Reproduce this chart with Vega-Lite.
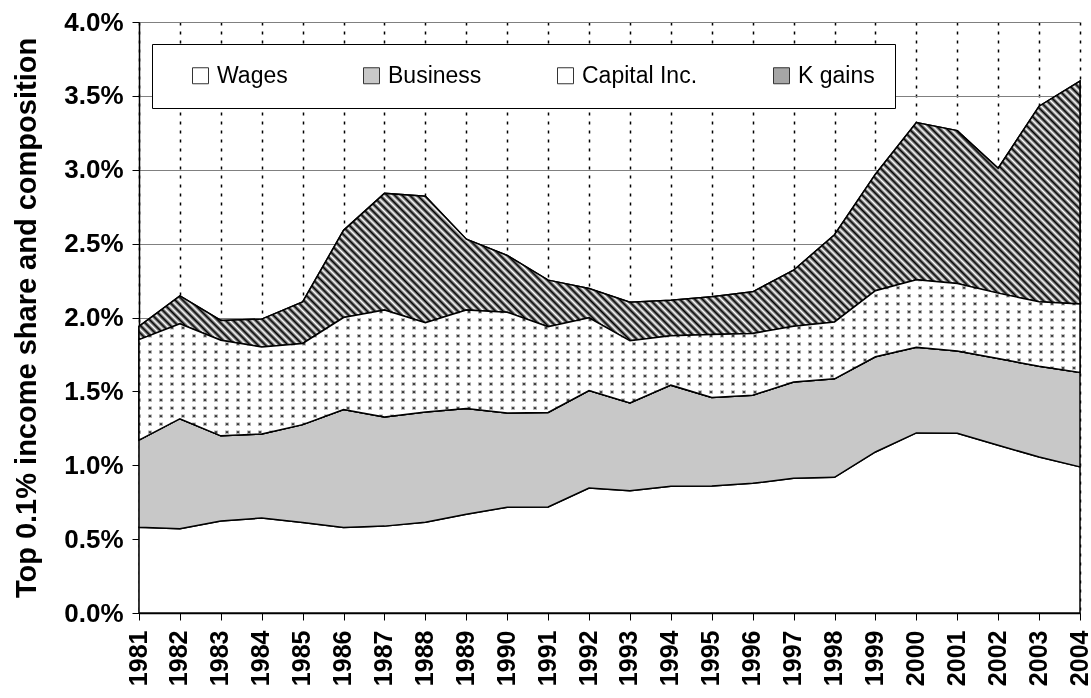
{
"$schema": "https://vega.github.io/schema/vega-lite/v6.json",
"width": 941, "height": 591,
"autosize": {"type": "none"},
"padding": {"left": 139, "top": 22, "right": 11, "bottom": 85},
"background": "#ffffff",
"config": {"view": {"stroke": null}, "font": "Liberation Sans"},
"data": {"values": [
{"year":1981,"series":"Wages","value":0.0058},{"year":1981,"series":"Business","value":0.0059},{"year":1981,"series":"Capital Inc.","value":0.0068},{"year":1981,"series":"K gains","value":0.0009},
{"year":1982,"series":"Wages","value":0.0057},{"year":1982,"series":"Business","value":0.00745},{"year":1982,"series":"Capital Inc.","value":0.00643},{"year":1982,"series":"K gains","value":0.00188},
{"year":1983,"series":"Wages","value":0.00623},{"year":1983,"series":"Business","value":0.00576},{"year":1983,"series":"Capital Inc.","value":0.00647},{"year":1983,"series":"K gains","value":0.00134},
{"year":1984,"series":"Wages","value":0.00643},{"year":1984,"series":"Business","value":0.00569},{"year":1984,"series":"Capital Inc.","value":0.00589},{"year":1984,"series":"K gains","value":0.00188},
{"year":1985,"series":"Wages","value":0.00612},{"year":1985,"series":"Business","value":0.00663},{"year":1985,"series":"Capital Inc.","value":0.00549},{"year":1985,"series":"K gains","value":0.00282},
{"year":1986,"series":"Wages","value":0.00578},{"year":1986,"series":"Business","value":0.00799},{"year":1986,"series":"Capital Inc.","value":0.00623},{"year":1986,"series":"K gains","value":0.0059},
{"year":1987,"series":"Wages","value":0.00588},{"year":1987,"series":"Business","value":0.00739},{"year":1987,"series":"Capital Inc.","value":0.00723},{"year":1987,"series":"K gains","value":0.0079},
{"year":1988,"series":"Wages","value":0.00614},{"year":1988,"series":"Business","value":0.00747},{"year":1988,"series":"Capital Inc.","value":0.00603},{"year":1988,"series":"K gains","value":0.00856},
{"year":1989,"series":"Wages","value":0.00668},{"year":1989,"series":"Business","value":0.00716},{"year":1989,"series":"Capital Inc.","value":0.00666},{"year":1989,"series":"K gains","value":0.0048},
{"year":1990,"series":"Wages","value":0.00716},{"year":1990,"series":"Business","value":0.00638},{"year":1990,"series":"Capital Inc.","value":0.00682},{"year":1990,"series":"K gains","value":0.00384},
{"year":1991,"series":"Wages","value":0.00718},{"year":1991,"series":"Business","value":0.00639},{"year":1991,"series":"Capital Inc.","value":0.0058},{"year":1991,"series":"K gains","value":0.00316},
{"year":1992,"series":"Wages","value":0.00846},{"year":1992,"series":"Business","value":0.0066},{"year":1992,"series":"Capital Inc.","value":0.00492},{"year":1992,"series":"K gains","value":0.00198},
{"year":1993,"series":"Wages","value":0.00828},{"year":1993,"series":"Business","value":0.00593},{"year":1993,"series":"Capital Inc.","value":0.00421},{"year":1993,"series":"K gains","value":0.00262},
{"year":1994,"series":"Wages","value":0.00858},{"year":1994,"series":"Business","value":0.00684},{"year":1994,"series":"Capital Inc.","value":0.00334},{"year":1994,"series":"K gains","value":0.00241},
{"year":1995,"series":"Wages","value":0.0086},{"year":1995,"series":"Business","value":0.00598},{"year":1995,"series":"Capital Inc.","value":0.00427},{"year":1995,"series":"K gains","value":0.00255},
{"year":1996,"series":"Wages","value":0.00878},{"year":1996,"series":"Business","value":0.00596},{"year":1996,"series":"Capital Inc.","value":0.00418},{"year":1996,"series":"K gains","value":0.00282},
{"year":1997,"series":"Wages","value":0.00912},{"year":1997,"series":"Business","value":0.00652},{"year":1997,"series":"Capital Inc.","value":0.00377},{"year":1997,"series":"K gains","value":0.00379},
{"year":1998,"series":"Wages","value":0.00918},{"year":1998,"series":"Business","value":0.00667},{"year":1998,"series":"Capital Inc.","value":0.00385},{"year":1998,"series":"K gains","value":0.0059},
{"year":1999,"series":"Wages","value":0.0109},{"year":1999,"series":"Business","value":0.00644},{"year":1999,"series":"Capital Inc.","value":0.00447},{"year":1999,"series":"K gains","value":0.00789},
{"year":2000,"series":"Wages","value":0.01219},{"year":2000,"series":"Business","value":0.0058},{"year":2000,"series":"Capital Inc.","value":0.00456},{"year":2000,"series":"K gains","value":0.01065},
{"year":2001,"series":"Wages","value":0.01217},{"year":2001,"series":"Business","value":0.00557},{"year":2001,"series":"Capital Inc.","value":0.00456},{"year":2001,"series":"K gains","value":0.01035},
{"year":2002,"series":"Wages","value":0.01135},{"year":2002,"series":"Business","value":0.00587},{"year":2002,"series":"Capital Inc.","value":0.00443},{"year":2002,"series":"K gains","value":0.00845},
{"year":2003,"series":"Wages","value":0.01056},{"year":2003,"series":"Business","value":0.00614},{"year":2003,"series":"Capital Inc.","value":0.00436},{"year":2003,"series":"K gains","value":0.01324},
{"year":2004,"series":"Wages","value":0.00989},{"year":2004,"series":"Business","value":0.00639},{"year":2004,"series":"Capital Inc.","value":0.00464},{"year":2004,"series":"K gains","value":0.01508}
]},
"transform": [
{"calculate": "indexof(['Wages','Business','Capital Inc.','K gains'], datum.series)", "as": "k"},
{"stack": "value", "groupby": ["year"], "sort": [{"field": "k", "order": "ascending"}], "as": ["y0", "y1"]}
],
"encoding": {
"x": {"field": "year", "type": "quantitative", "scale": {"domain": [1981, 2004], "nice": false, "zero": false},
 "axis": {"values": [1981,1982,1983,1984,1985,1986,1987,1988,1989,1990,1991,1992,1993,1994,1995,1996,1997,1998,1999,2000,2001,2002,2003,2004],
  "format": "d", "labelAngle": 270, "labelFont": "Liberation Sans", "labelFontSize": 25, "labelFontWeight": "bold", "labelColor": "#000",
  "labelPadding": 10, "labelOffset": -1, "labelOverlap": false, "labelFlush": false, "labelBound": false,
  "tickColor": "#000", "tickSize": 7, "tickWidth": 1, "domainColor": "#000", "domainWidth": 1.5,
  "grid": true, "gridColor": "#000", "gridDash": [3, 6], "gridWidth": 1.5, "title": null}},
"y": {"field": "y1", "type": "quantitative", "scale": {"domain": [0, 0.04], "nice": false},
 "axis": {"values": [0,0.005,0.01,0.015,0.02,0.025,0.03,0.035,0.04], "format": ".1%",
  "labelFont": "Liberation Sans", "labelFontSize": 26, "labelFontWeight": "bold", "labelColor": "#000", "labelPadding": 9, "labelFlush": false,
  "tickColor": "#000", "tickSize": 7, "tickWidth": 1, "domainColor": "#000", "domainWidth": 1.5,
  "grid": true, "gridColor": "#808080", "gridWidth": 1,
  "title": "Top 0.1% income share and composition", "titleFont": "Liberation Sans", "titleFontSize": 29, "titleFontWeight": "bold", "titleColor": "#000", "titlePadding": 22}},
"y2": {"field": "y0"}
},
"layer": [
{"mark": {"type": "area", "stroke": "#000", "strokeWidth": 1.5, "opacity": 1},
 "encoding": {"fill": {"field": "series", "type": "nominal",
  "scale": {"domain": ["Wages", "Business", "Capital Inc.", "K gains"], "range": ["#ffffff", "#c8c8c8", "#ffffff", "#a6a6a6"]},
  "legend": {"title": null, "orient": "none", "legendX": 13, "legendY": 22, "direction": "horizontal",
   "symbolType": "square", "symbolSize": 256, "symbolStrokeColor": "#333", "symbolStrokeWidth": 1, "symbolOpacity": 1,
   "labelFont": "Liberation Sans", "labelFontSize": 23, "labelColor": "#000", "labelOffset": 5, "labelLimit": 300,
   "columnPadding": 55, "padding": 20, "symbolOffset": 17, "strokeColor": "#000", "fillColor": "#fff",
   "encode": {"symbols": {"update": {
     "size": {"value": 256}, "shape": {"value": "square"}, "stroke": {"value": "#333"}, "strokeWidth": {"value": 1}, "opacity": {"value": 1},
     "fill": [
     {"test": "datum.label === 'K gains'", "value": {"gradient": "linear", "x1": 0, "y1": 1, "x2": 1, "y2": 0, "stops": [{"offset":0,"color":"#000"},{"offset":0.1,"color":"#fff"},{"offset":0.2,"color":"#000"},{"offset":0.3,"color":"#fff"},{"offset":0.4,"color":"#000"},{"offset":0.5,"color":"#fff"},{"offset":0.6,"color":"#000"},{"offset":0.7,"color":"#fff"},{"offset":0.8,"color":"#000"},{"offset":0.9,"color":"#fff"},{"offset":1,"color":"#000"}]}},
     {"scale": "fill", "field": "value"}]}}}
  }}}},
{"transform": [{"filter": "datum.series === 'K gains'"}],
 "mark": {"type": "area", "stroke": "#000", "strokeWidth": 1.5,
  "fill": {"gradient": "linear", "x1": 0, "y1": 1, "x2": 1.4848, "y2": 0.5803, "stops": [
{"offset":0,"color":"#000"},{"offset":0.0025,"color":"#fff"},{"offset":0.005,"color":"#000"},{"offset":0.0075,"color":"#fff"},
{"offset":0.01,"color":"#000"},{"offset":0.0125,"color":"#fff"},{"offset":0.015,"color":"#000"},{"offset":0.0175,"color":"#fff"},
{"offset":0.02,"color":"#000"},{"offset":0.0225,"color":"#fff"},{"offset":0.025,"color":"#000"},{"offset":0.0275,"color":"#fff"},
{"offset":0.03,"color":"#000"},{"offset":0.0325,"color":"#fff"},{"offset":0.035,"color":"#000"},{"offset":0.0375,"color":"#fff"},
{"offset":0.04,"color":"#000"},{"offset":0.0425,"color":"#fff"},{"offset":0.045,"color":"#000"},{"offset":0.0475,"color":"#fff"},
{"offset":0.05,"color":"#000"},{"offset":0.0525,"color":"#fff"},{"offset":0.055,"color":"#000"},{"offset":0.0575,"color":"#fff"},
{"offset":0.06,"color":"#000"},{"offset":0.0625,"color":"#fff"},{"offset":0.065,"color":"#000"},{"offset":0.0675,"color":"#fff"},
{"offset":0.07,"color":"#000"},{"offset":0.0725,"color":"#fff"},{"offset":0.075,"color":"#000"},{"offset":0.0775,"color":"#fff"},
{"offset":0.08,"color":"#000"},{"offset":0.0825,"color":"#fff"},{"offset":0.085,"color":"#000"},{"offset":0.0875,"color":"#fff"},
{"offset":0.09,"color":"#000"},{"offset":0.0925,"color":"#fff"},{"offset":0.095,"color":"#000"},{"offset":0.0975,"color":"#fff"},
{"offset":0.10,"color":"#000"},{"offset":0.1025,"color":"#fff"},{"offset":0.105,"color":"#000"},{"offset":0.1075,"color":"#fff"},
{"offset":0.11,"color":"#000"},{"offset":0.1125,"color":"#fff"},{"offset":0.115,"color":"#000"},{"offset":0.1175,"color":"#fff"},
{"offset":0.12,"color":"#000"},{"offset":0.1225,"color":"#fff"},{"offset":0.125,"color":"#000"},{"offset":0.1275,"color":"#fff"},
{"offset":0.13,"color":"#000"},{"offset":0.1325,"color":"#fff"},{"offset":0.135,"color":"#000"},{"offset":0.1375,"color":"#fff"},
{"offset":0.14,"color":"#000"},{"offset":0.1425,"color":"#fff"},{"offset":0.145,"color":"#000"},{"offset":0.1475,"color":"#fff"},
{"offset":0.15,"color":"#000"},{"offset":0.1525,"color":"#fff"},{"offset":0.155,"color":"#000"},{"offset":0.1575,"color":"#fff"},
{"offset":0.16,"color":"#000"},{"offset":0.1625,"color":"#fff"},{"offset":0.165,"color":"#000"},{"offset":0.1675,"color":"#fff"},
{"offset":0.17,"color":"#000"},{"offset":0.1725,"color":"#fff"},{"offset":0.175,"color":"#000"},{"offset":0.1775,"color":"#fff"},
{"offset":0.18,"color":"#000"},{"offset":0.1825,"color":"#fff"},{"offset":0.185,"color":"#000"},{"offset":0.1875,"color":"#fff"},
{"offset":0.19,"color":"#000"},{"offset":0.1925,"color":"#fff"},{"offset":0.195,"color":"#000"},{"offset":0.1975,"color":"#fff"},
{"offset":0.20,"color":"#000"},{"offset":0.2025,"color":"#fff"},{"offset":0.205,"color":"#000"},{"offset":0.2075,"color":"#fff"},
{"offset":0.21,"color":"#000"},{"offset":0.2125,"color":"#fff"},{"offset":0.215,"color":"#000"},{"offset":0.2175,"color":"#fff"},
{"offset":0.22,"color":"#000"},{"offset":0.2225,"color":"#fff"},{"offset":0.225,"color":"#000"},{"offset":0.2275,"color":"#fff"},
{"offset":0.23,"color":"#000"},{"offset":0.2325,"color":"#fff"},{"offset":0.235,"color":"#000"},{"offset":0.2375,"color":"#fff"},
{"offset":0.24,"color":"#000"},{"offset":0.2425,"color":"#fff"},{"offset":0.245,"color":"#000"},{"offset":0.2475,"color":"#fff"},
{"offset":0.25,"color":"#000"},{"offset":0.2525,"color":"#fff"},{"offset":0.255,"color":"#000"},{"offset":0.2575,"color":"#fff"},
{"offset":0.26,"color":"#000"},{"offset":0.2625,"color":"#fff"},{"offset":0.265,"color":"#000"},{"offset":0.2675,"color":"#fff"},
{"offset":0.27,"color":"#000"},{"offset":0.2725,"color":"#fff"},{"offset":0.275,"color":"#000"},{"offset":0.2775,"color":"#fff"},
{"offset":0.28,"color":"#000"},{"offset":0.2825,"color":"#fff"},{"offset":0.285,"color":"#000"},{"offset":0.2875,"color":"#fff"},
{"offset":0.29,"color":"#000"},{"offset":0.2925,"color":"#fff"},{"offset":0.295,"color":"#000"},{"offset":0.2975,"color":"#fff"},
{"offset":0.30,"color":"#000"},{"offset":0.3025,"color":"#fff"},{"offset":0.305,"color":"#000"},{"offset":0.3075,"color":"#fff"},
{"offset":0.31,"color":"#000"},{"offset":0.3125,"color":"#fff"},{"offset":0.315,"color":"#000"},{"offset":0.3175,"color":"#fff"},
{"offset":0.32,"color":"#000"},{"offset":0.3225,"color":"#fff"},{"offset":0.325,"color":"#000"},{"offset":0.3275,"color":"#fff"},
{"offset":0.33,"color":"#000"},{"offset":0.3325,"color":"#fff"},{"offset":0.335,"color":"#000"},{"offset":0.3375,"color":"#fff"},
{"offset":0.34,"color":"#000"},{"offset":0.3425,"color":"#fff"},{"offset":0.345,"color":"#000"},{"offset":0.3475,"color":"#fff"},
{"offset":0.35,"color":"#000"},{"offset":0.3525,"color":"#fff"},{"offset":0.355,"color":"#000"},{"offset":0.3575,"color":"#fff"},
{"offset":0.36,"color":"#000"},{"offset":0.3625,"color":"#fff"},{"offset":0.365,"color":"#000"},{"offset":0.3675,"color":"#fff"},
{"offset":0.37,"color":"#000"},{"offset":0.3725,"color":"#fff"},{"offset":0.375,"color":"#000"},{"offset":0.3775,"color":"#fff"},
{"offset":0.38,"color":"#000"},{"offset":0.3825,"color":"#fff"},{"offset":0.385,"color":"#000"},{"offset":0.3875,"color":"#fff"},
{"offset":0.39,"color":"#000"},{"offset":0.3925,"color":"#fff"},{"offset":0.395,"color":"#000"},{"offset":0.3975,"color":"#fff"},
{"offset":0.40,"color":"#000"},{"offset":0.4025,"color":"#fff"},{"offset":0.405,"color":"#000"},{"offset":0.4075,"color":"#fff"},
{"offset":0.41,"color":"#000"},{"offset":0.4125,"color":"#fff"},{"offset":0.415,"color":"#000"},{"offset":0.4175,"color":"#fff"},
{"offset":0.42,"color":"#000"},{"offset":0.4225,"color":"#fff"},{"offset":0.425,"color":"#000"},{"offset":0.4275,"color":"#fff"},
{"offset":0.43,"color":"#000"},{"offset":0.4325,"color":"#fff"},{"offset":0.435,"color":"#000"},{"offset":0.4375,"color":"#fff"},
{"offset":0.44,"color":"#000"},{"offset":0.4425,"color":"#fff"},{"offset":0.445,"color":"#000"},{"offset":0.4475,"color":"#fff"},
{"offset":0.45,"color":"#000"},{"offset":0.4525,"color":"#fff"},{"offset":0.455,"color":"#000"},{"offset":0.4575,"color":"#fff"},
{"offset":0.46,"color":"#000"},{"offset":0.4625,"color":"#fff"},{"offset":0.465,"color":"#000"},{"offset":0.4675,"color":"#fff"},
{"offset":0.47,"color":"#000"},{"offset":0.4725,"color":"#fff"},{"offset":0.475,"color":"#000"},{"offset":0.4775,"color":"#fff"},
{"offset":0.48,"color":"#000"},{"offset":0.4825,"color":"#fff"},{"offset":0.485,"color":"#000"},{"offset":0.4875,"color":"#fff"},
{"offset":0.49,"color":"#000"},{"offset":0.4925,"color":"#fff"},{"offset":0.495,"color":"#000"},{"offset":0.4975,"color":"#fff"},
{"offset":0.50,"color":"#000"},{"offset":0.5025,"color":"#fff"},{"offset":0.505,"color":"#000"},{"offset":0.5075,"color":"#fff"},
{"offset":0.51,"color":"#000"},{"offset":0.5125,"color":"#fff"},{"offset":0.515,"color":"#000"},{"offset":0.5175,"color":"#fff"},
{"offset":0.52,"color":"#000"},{"offset":0.5225,"color":"#fff"},{"offset":0.525,"color":"#000"},{"offset":0.5275,"color":"#fff"},
{"offset":0.53,"color":"#000"},{"offset":0.5325,"color":"#fff"},{"offset":0.535,"color":"#000"},{"offset":0.5375,"color":"#fff"},
{"offset":0.54,"color":"#000"},{"offset":0.5425,"color":"#fff"},{"offset":0.545,"color":"#000"},{"offset":0.5475,"color":"#fff"},
{"offset":0.55,"color":"#000"},{"offset":0.5525,"color":"#fff"},{"offset":0.555,"color":"#000"},{"offset":0.5575,"color":"#fff"},
{"offset":0.56,"color":"#000"},{"offset":0.5625,"color":"#fff"},{"offset":0.565,"color":"#000"},{"offset":0.5675,"color":"#fff"},
{"offset":0.57,"color":"#000"},{"offset":0.5725,"color":"#fff"},{"offset":0.575,"color":"#000"},{"offset":0.5775,"color":"#fff"},
{"offset":0.58,"color":"#000"},{"offset":0.5825,"color":"#fff"},{"offset":0.585,"color":"#000"},{"offset":0.5875,"color":"#fff"},
{"offset":0.59,"color":"#000"},{"offset":0.5925,"color":"#fff"},{"offset":0.595,"color":"#000"},{"offset":0.5975,"color":"#fff"},
{"offset":0.60,"color":"#000"},{"offset":0.6025,"color":"#fff"},{"offset":0.605,"color":"#000"},{"offset":0.6075,"color":"#fff"},
{"offset":0.61,"color":"#000"},{"offset":0.6125,"color":"#fff"},{"offset":0.615,"color":"#000"},{"offset":0.6175,"color":"#fff"},
{"offset":0.62,"color":"#000"},{"offset":0.6225,"color":"#fff"},{"offset":0.625,"color":"#000"},{"offset":0.6275,"color":"#fff"},
{"offset":0.63,"color":"#000"},{"offset":0.6325,"color":"#fff"},{"offset":0.635,"color":"#000"},{"offset":0.6375,"color":"#fff"},
{"offset":0.64,"color":"#000"},{"offset":0.6425,"color":"#fff"},{"offset":0.645,"color":"#000"},{"offset":0.6475,"color":"#fff"},
{"offset":0.65,"color":"#000"},{"offset":0.6525,"color":"#fff"},{"offset":0.655,"color":"#000"},{"offset":0.6575,"color":"#fff"},
{"offset":0.66,"color":"#000"},{"offset":0.6625,"color":"#fff"},{"offset":0.665,"color":"#000"},{"offset":0.6675,"color":"#fff"},
{"offset":0.67,"color":"#000"},{"offset":0.6725,"color":"#fff"},{"offset":0.675,"color":"#000"},{"offset":0.6775,"color":"#fff"},
{"offset":0.68,"color":"#000"},{"offset":0.6825,"color":"#fff"},{"offset":0.685,"color":"#000"},{"offset":0.6875,"color":"#fff"},
{"offset":0.69,"color":"#000"},{"offset":0.6925,"color":"#fff"},{"offset":0.695,"color":"#000"},{"offset":0.6975,"color":"#fff"},
{"offset":0.70,"color":"#000"},{"offset":0.7025,"color":"#fff"},{"offset":0.705,"color":"#000"},{"offset":0.7075,"color":"#fff"},
{"offset":0.71,"color":"#000"},{"offset":0.7125,"color":"#fff"},{"offset":0.715,"color":"#000"},{"offset":0.7175,"color":"#fff"},
{"offset":0.72,"color":"#000"},{"offset":0.7225,"color":"#fff"},{"offset":0.725,"color":"#000"},{"offset":0.7275,"color":"#fff"},
{"offset":0.73,"color":"#000"},{"offset":0.7325,"color":"#fff"},{"offset":0.735,"color":"#000"},{"offset":0.7375,"color":"#fff"},
{"offset":0.74,"color":"#000"},{"offset":0.7425,"color":"#fff"},{"offset":0.745,"color":"#000"},{"offset":0.7475,"color":"#fff"},
{"offset":0.75,"color":"#000"},{"offset":0.7525,"color":"#fff"},{"offset":0.755,"color":"#000"},{"offset":0.7575,"color":"#fff"},
{"offset":0.76,"color":"#000"},{"offset":0.7625,"color":"#fff"},{"offset":0.765,"color":"#000"},{"offset":0.7675,"color":"#fff"},
{"offset":0.77,"color":"#000"},{"offset":0.7725,"color":"#fff"},{"offset":0.775,"color":"#000"},{"offset":0.7775,"color":"#fff"},
{"offset":0.78,"color":"#000"},{"offset":0.7825,"color":"#fff"},{"offset":0.785,"color":"#000"},{"offset":0.7875,"color":"#fff"},
{"offset":0.79,"color":"#000"},{"offset":0.7925,"color":"#fff"},{"offset":0.795,"color":"#000"},{"offset":0.7975,"color":"#fff"},
{"offset":0.8,"color":"#000"}
  ]}}},
{"transform": [{"filter": "datum.series === 'Capital Inc.'"}],
 "mark": {"type": "area", "strokeWidth": 0,
  "fill": {"gradient": "linear", "x1": 0, "y1": 0, "x2": 1.169, "y2": 0, "stops": [
{"offset":0,"color":"#000"},{"offset":0.002,"color":"#fff"},{"offset":0.008,"color":"#fff"},
{"offset":0.01,"color":"#000"},{"offset":0.012,"color":"#fff"},{"offset":0.018,"color":"#fff"},
{"offset":0.02,"color":"#000"},{"offset":0.022,"color":"#fff"},{"offset":0.028,"color":"#fff"},
{"offset":0.03,"color":"#000"},{"offset":0.032,"color":"#fff"},{"offset":0.038,"color":"#fff"},
{"offset":0.04,"color":"#000"},{"offset":0.042,"color":"#fff"},{"offset":0.048,"color":"#fff"},
{"offset":0.05,"color":"#000"},{"offset":0.052,"color":"#fff"},{"offset":0.058,"color":"#fff"},
{"offset":0.06,"color":"#000"},{"offset":0.062,"color":"#fff"},{"offset":0.068,"color":"#fff"},
{"offset":0.07,"color":"#000"},{"offset":0.072,"color":"#fff"},{"offset":0.078,"color":"#fff"},
{"offset":0.08,"color":"#000"},{"offset":0.082,"color":"#fff"},{"offset":0.088,"color":"#fff"},
{"offset":0.09,"color":"#000"},{"offset":0.092,"color":"#fff"},{"offset":0.098,"color":"#fff"},
{"offset":0.10,"color":"#000"},{"offset":0.102,"color":"#fff"},{"offset":0.108,"color":"#fff"},
{"offset":0.11,"color":"#000"},{"offset":0.112,"color":"#fff"},{"offset":0.118,"color":"#fff"},
{"offset":0.12,"color":"#000"},{"offset":0.122,"color":"#fff"},{"offset":0.128,"color":"#fff"},
{"offset":0.13,"color":"#000"},{"offset":0.132,"color":"#fff"},{"offset":0.138,"color":"#fff"},
{"offset":0.14,"color":"#000"},{"offset":0.142,"color":"#fff"},{"offset":0.148,"color":"#fff"},
{"offset":0.15,"color":"#000"},{"offset":0.152,"color":"#fff"},{"offset":0.158,"color":"#fff"},
{"offset":0.16,"color":"#000"},{"offset":0.162,"color":"#fff"},{"offset":0.168,"color":"#fff"},
{"offset":0.17,"color":"#000"},{"offset":0.172,"color":"#fff"},{"offset":0.178,"color":"#fff"},
{"offset":0.18,"color":"#000"},{"offset":0.182,"color":"#fff"},{"offset":0.188,"color":"#fff"},
{"offset":0.19,"color":"#000"},{"offset":0.192,"color":"#fff"},{"offset":0.198,"color":"#fff"},
{"offset":0.20,"color":"#000"},{"offset":0.202,"color":"#fff"},{"offset":0.208,"color":"#fff"},
{"offset":0.21,"color":"#000"},{"offset":0.212,"color":"#fff"},{"offset":0.218,"color":"#fff"},
{"offset":0.22,"color":"#000"},{"offset":0.222,"color":"#fff"},{"offset":0.228,"color":"#fff"},
{"offset":0.23,"color":"#000"},{"offset":0.232,"color":"#fff"},{"offset":0.238,"color":"#fff"},
{"offset":0.24,"color":"#000"},{"offset":0.242,"color":"#fff"},{"offset":0.248,"color":"#fff"},
{"offset":0.25,"color":"#000"},{"offset":0.252,"color":"#fff"},{"offset":0.258,"color":"#fff"},
{"offset":0.26,"color":"#000"},{"offset":0.262,"color":"#fff"},{"offset":0.268,"color":"#fff"},
{"offset":0.27,"color":"#000"},{"offset":0.272,"color":"#fff"},{"offset":0.278,"color":"#fff"},
{"offset":0.28,"color":"#000"},{"offset":0.282,"color":"#fff"},{"offset":0.288,"color":"#fff"},
{"offset":0.29,"color":"#000"},{"offset":0.292,"color":"#fff"},{"offset":0.298,"color":"#fff"},
{"offset":0.30,"color":"#000"},{"offset":0.302,"color":"#fff"},{"offset":0.308,"color":"#fff"},
{"offset":0.31,"color":"#000"},{"offset":0.312,"color":"#fff"},{"offset":0.318,"color":"#fff"},
{"offset":0.32,"color":"#000"},{"offset":0.322,"color":"#fff"},{"offset":0.328,"color":"#fff"},
{"offset":0.33,"color":"#000"},{"offset":0.332,"color":"#fff"},{"offset":0.338,"color":"#fff"},
{"offset":0.34,"color":"#000"},{"offset":0.342,"color":"#fff"},{"offset":0.348,"color":"#fff"},
{"offset":0.35,"color":"#000"},{"offset":0.352,"color":"#fff"},{"offset":0.358,"color":"#fff"},
{"offset":0.36,"color":"#000"},{"offset":0.362,"color":"#fff"},{"offset":0.368,"color":"#fff"},
{"offset":0.37,"color":"#000"},{"offset":0.372,"color":"#fff"},{"offset":0.378,"color":"#fff"},
{"offset":0.38,"color":"#000"},{"offset":0.382,"color":"#fff"},{"offset":0.388,"color":"#fff"},
{"offset":0.39,"color":"#000"},{"offset":0.392,"color":"#fff"},{"offset":0.398,"color":"#fff"},
{"offset":0.40,"color":"#000"},{"offset":0.402,"color":"#fff"},{"offset":0.408,"color":"#fff"},
{"offset":0.41,"color":"#000"},{"offset":0.412,"color":"#fff"},{"offset":0.418,"color":"#fff"},
{"offset":0.42,"color":"#000"},{"offset":0.422,"color":"#fff"},{"offset":0.428,"color":"#fff"},
{"offset":0.43,"color":"#000"},{"offset":0.432,"color":"#fff"},{"offset":0.438,"color":"#fff"},
{"offset":0.44,"color":"#000"},{"offset":0.442,"color":"#fff"},{"offset":0.448,"color":"#fff"},
{"offset":0.45,"color":"#000"},{"offset":0.452,"color":"#fff"},{"offset":0.458,"color":"#fff"},
{"offset":0.46,"color":"#000"},{"offset":0.462,"color":"#fff"},{"offset":0.468,"color":"#fff"},
{"offset":0.47,"color":"#000"},{"offset":0.472,"color":"#fff"},{"offset":0.478,"color":"#fff"},
{"offset":0.48,"color":"#000"},{"offset":0.482,"color":"#fff"},{"offset":0.488,"color":"#fff"},
{"offset":0.49,"color":"#000"},{"offset":0.492,"color":"#fff"},{"offset":0.498,"color":"#fff"},
{"offset":0.50,"color":"#000"},{"offset":0.502,"color":"#fff"},{"offset":0.508,"color":"#fff"},
{"offset":0.51,"color":"#000"},{"offset":0.512,"color":"#fff"},{"offset":0.518,"color":"#fff"},
{"offset":0.52,"color":"#000"},{"offset":0.522,"color":"#fff"},{"offset":0.528,"color":"#fff"},
{"offset":0.53,"color":"#000"},{"offset":0.532,"color":"#fff"},{"offset":0.538,"color":"#fff"},
{"offset":0.54,"color":"#000"},{"offset":0.542,"color":"#fff"},{"offset":0.548,"color":"#fff"},
{"offset":0.55,"color":"#000"},{"offset":0.552,"color":"#fff"},{"offset":0.558,"color":"#fff"},
{"offset":0.56,"color":"#000"},{"offset":0.562,"color":"#fff"},{"offset":0.568,"color":"#fff"},
{"offset":0.57,"color":"#000"},{"offset":0.572,"color":"#fff"},{"offset":0.578,"color":"#fff"},
{"offset":0.58,"color":"#000"},{"offset":0.582,"color":"#fff"},{"offset":0.588,"color":"#fff"},
{"offset":0.59,"color":"#000"},{"offset":0.592,"color":"#fff"},{"offset":0.598,"color":"#fff"},
{"offset":0.60,"color":"#000"},{"offset":0.602,"color":"#fff"},{"offset":0.608,"color":"#fff"},
{"offset":0.61,"color":"#000"},{"offset":0.612,"color":"#fff"},{"offset":0.618,"color":"#fff"},
{"offset":0.62,"color":"#000"},{"offset":0.622,"color":"#fff"},{"offset":0.628,"color":"#fff"},
{"offset":0.63,"color":"#000"},{"offset":0.632,"color":"#fff"},{"offset":0.638,"color":"#fff"},
{"offset":0.64,"color":"#000"},{"offset":0.642,"color":"#fff"},{"offset":0.648,"color":"#fff"},
{"offset":0.65,"color":"#000"},{"offset":0.652,"color":"#fff"},{"offset":0.658,"color":"#fff"},
{"offset":0.66,"color":"#000"},{"offset":0.662,"color":"#fff"},{"offset":0.668,"color":"#fff"},
{"offset":0.67,"color":"#000"},{"offset":0.672,"color":"#fff"},{"offset":0.678,"color":"#fff"},
{"offset":0.68,"color":"#000"},{"offset":0.682,"color":"#fff"},{"offset":0.688,"color":"#fff"},
{"offset":0.69,"color":"#000"},{"offset":0.692,"color":"#fff"},{"offset":0.698,"color":"#fff"},
{"offset":0.70,"color":"#000"},{"offset":0.702,"color":"#fff"},{"offset":0.708,"color":"#fff"},
{"offset":0.71,"color":"#000"},{"offset":0.712,"color":"#fff"},{"offset":0.718,"color":"#fff"},
{"offset":0.72,"color":"#000"},{"offset":0.722,"color":"#fff"},{"offset":0.728,"color":"#fff"},
{"offset":0.73,"color":"#000"},{"offset":0.732,"color":"#fff"},{"offset":0.738,"color":"#fff"},
{"offset":0.74,"color":"#000"},{"offset":0.742,"color":"#fff"},{"offset":0.748,"color":"#fff"},
{"offset":0.75,"color":"#000"},{"offset":0.752,"color":"#fff"},{"offset":0.758,"color":"#fff"},
{"offset":0.76,"color":"#000"},{"offset":0.762,"color":"#fff"},{"offset":0.768,"color":"#fff"},
{"offset":0.77,"color":"#000"},{"offset":0.772,"color":"#fff"},{"offset":0.778,"color":"#fff"},
{"offset":0.78,"color":"#000"},{"offset":0.782,"color":"#fff"},{"offset":0.788,"color":"#fff"},
{"offset":0.79,"color":"#000"},{"offset":0.792,"color":"#fff"},{"offset":0.798,"color":"#fff"},
{"offset":0.80,"color":"#000"},{"offset":0.802,"color":"#fff"},{"offset":0.808,"color":"#fff"},
{"offset":0.81,"color":"#000"},{"offset":0.812,"color":"#fff"},{"offset":0.818,"color":"#fff"},
{"offset":0.82,"color":"#000"},{"offset":0.822,"color":"#fff"},{"offset":0.828,"color":"#fff"},
{"offset":0.83,"color":"#000"},{"offset":0.832,"color":"#fff"},{"offset":0.838,"color":"#fff"},
{"offset":0.84,"color":"#000"},{"offset":0.842,"color":"#fff"},{"offset":0.848,"color":"#fff"},
{"offset":0.85,"color":"#000"},{"offset":0.852,"color":"#fff"},{"offset":0.858,"color":"#fff"},
{"offset":0.86,"color":"#000"},{"offset":0.862,"color":"#fff"}
  ]}}},
{"transform": [{"filter": "datum.series === 'Capital Inc.'"}],
 "mark": {"type": "area", "strokeWidth": 0, "blend": "lighten",
  "fill": {"gradient": "linear", "x1": 0, "y1": 0, "x2": 0, "y2": 1, "stops": [
{"offset":0,"color":"#000"},{"offset":0.012,"color":"#fff"},{"offset":0.038,"color":"#fff"},
{"offset":0.05,"color":"#000"},{"offset":0.062,"color":"#fff"},{"offset":0.088,"color":"#fff"},
{"offset":0.1,"color":"#000"},{"offset":0.112,"color":"#fff"},{"offset":0.138,"color":"#fff"},
{"offset":0.15,"color":"#000"},{"offset":0.162,"color":"#fff"},{"offset":0.188,"color":"#fff"},
{"offset":0.2,"color":"#000"},{"offset":0.212,"color":"#fff"},{"offset":0.238,"color":"#fff"},
{"offset":0.25,"color":"#000"},{"offset":0.262,"color":"#fff"},{"offset":0.288,"color":"#fff"},
{"offset":0.3,"color":"#000"},{"offset":0.312,"color":"#fff"},{"offset":0.338,"color":"#fff"},
{"offset":0.35,"color":"#000"},{"offset":0.362,"color":"#fff"},{"offset":0.388,"color":"#fff"},
{"offset":0.4,"color":"#000"},{"offset":0.412,"color":"#fff"},{"offset":0.438,"color":"#fff"},
{"offset":0.45,"color":"#000"},{"offset":0.462,"color":"#fff"},{"offset":0.488,"color":"#fff"},
{"offset":0.5,"color":"#000"},{"offset":0.512,"color":"#fff"},{"offset":0.538,"color":"#fff"},
{"offset":0.55,"color":"#000"},{"offset":0.562,"color":"#fff"},{"offset":0.588,"color":"#fff"},
{"offset":0.6,"color":"#000"},{"offset":0.612,"color":"#fff"},{"offset":0.638,"color":"#fff"},
{"offset":0.65,"color":"#000"},{"offset":0.662,"color":"#fff"},{"offset":0.688,"color":"#fff"},
{"offset":0.7,"color":"#000"},{"offset":0.712,"color":"#fff"},{"offset":0.738,"color":"#fff"},
{"offset":0.75,"color":"#000"},{"offset":0.762,"color":"#fff"},{"offset":0.788,"color":"#fff"},
{"offset":0.8,"color":"#000"},{"offset":0.812,"color":"#fff"},{"offset":0.838,"color":"#fff"},
{"offset":0.85,"color":"#000"},{"offset":0.862,"color":"#fff"},{"offset":0.888,"color":"#fff"},
{"offset":0.9,"color":"#000"},{"offset":0.912,"color":"#fff"},{"offset":0.938,"color":"#fff"},
{"offset":0.95,"color":"#000"},{"offset":0.962,"color":"#fff"},{"offset":0.988,"color":"#fff"},
{"offset":1,"color":"#000"}
  ]}}},
{"transform": [{"filter": "datum.series === 'Capital Inc.'"}],
 "mark": {"type": "area", "fillOpacity": 0, "stroke": "#000", "strokeWidth": 1.5}}
]
}
